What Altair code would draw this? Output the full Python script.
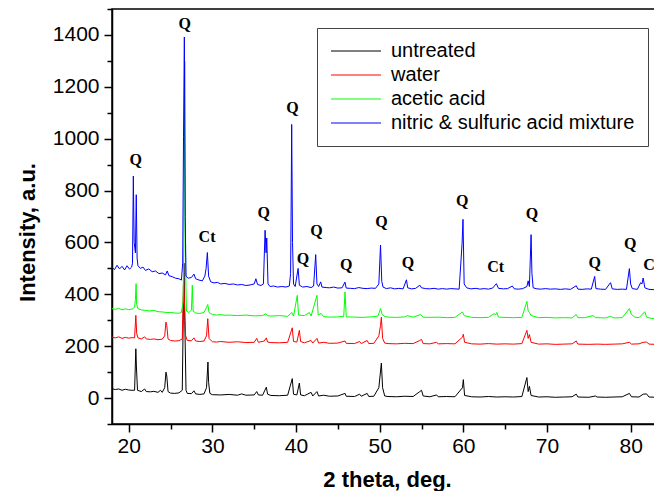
import altair as alt
import pandas as pd

series_names = ["untreated", "water", "acetic acid", "nitric & sulfuric acid mixture"]
series_colors = ["#000000", "#ff0000", "#00ff00", "#0000ff"]

untreated_pts = [
    (18.0, 36), (18.4, 33), (18.8, 35), (19.2, 30), (19.6, 34), (20.0, 31), (20.4, 30), (20.7, 30),
    (20.85, 190), (20.92, 120), (21.05, 30), (21.5, 25), (21.9, 35), (22.1, 25), (22.6, 24), (23.0, 26),
    (23.5, 22), (23.8, 30), (24.0, 22), (24.3, 40), (24.45, 100), (24.55, 85), (24.7, 25), (25.0, 19),
    (25.5, 18), (26.0, 20), (26.4, 30), (26.6, 520), (26.7, 300), (26.85, 30), (27.0, 18), (27.5, 17),
    (27.8, 28), (28.0, 16), (28.5, 14), (29.0, 16), (29.3, 40), (29.47, 139), (29.55, 60), (29.7, 18),
    (30.0, 13), (31.0, 12), (32.0, 14), (33.0, 11), (33.5, 16), (34.0, 11), (35.0, 12), (35.3, 25),
    (35.5, 12), (36.0, 11), (36.45, 42), (36.6, 15), (37.0, 10), (38.0, 9), (39.0, 11), (39.55, 75),
    (39.7, 15), (40.1, 12), (40.4, 58), (40.55, 12), (41.0, 9), (41.8, 22), (42.0, 8), (42.5, 25),
    (42.7, 8), (43.3, 11), (44.0, 7), (45.0, 8), (45.86, 18), (46.0, 7), (47.0, 6), (47.6, 15),
    (47.8, 7), (48.5, 18), (48.7, 6), (49.3, 7), (49.9, 40), (50.2, 135), (50.35, 40), (50.6, 8),
    (51.0, 6), (52.0, 5), (53.0, 7), (54.0, 6), (54.8, 25), (55.0, 30), (55.2, 8), (56.0, 5),
    (56.8, 12), (57.0, 5), (58.0, 6), (59.0, 5), (59.9, 40), (60.0, 71), (60.15, 10), (61.0, 5),
    (62.0, 4), (63.0, 6), (64.0, 4), (65.0, 5), (66.0, 4), (67.0, 6), (67.6, 79), (67.75, 25),
    (67.9, 45), (68.1, 10), (69.0, 4), (70.0, 5), (71.0, 3), (72.0, 4), (73.0, 5), (73.5, 15),
    (73.7, 4), (75.0, 3), (75.8, 8), (76.0, 4), (77.0, 3), (78.0, 4), (79.0, 5), (79.85, 18),
    (80.1, 5), (81.0, 4), (81.5, 15), (81.9, 16), (82.2, 4), (83.0, 3), (83.75, 4),
]

water_pts = [
    (18.0, 235), (18.4, 232), (18.8, 236), (19.2, 230), (19.6, 234), (20.0, 231), (20.4, 233), (20.7, 232),
    (20.85, 319), (20.95, 250), (21.1, 232), (21.5, 228), (21.9, 236), (22.1, 228), (22.6, 226), (23.0, 228),
    (23.5, 225), (24.0, 227), (24.3, 240), (24.45, 293), (24.55, 280), (24.7, 228), (25.0, 222), (25.5, 220),
    (26.0, 221), (26.4, 228), (26.55, 454), (26.65, 380), (26.8, 240), (27.0, 222), (27.5, 221), (27.8, 232),
    (28.0, 220), (28.5, 218), (29.0, 220), (29.3, 240), (29.45, 306), (29.6, 230), (30.0, 217), (30.5, 216),
    (31.0, 218), (32.0, 215), (33.0, 217), (34.0, 214), (35.0, 215), (35.3, 230), (35.5, 215), (36.2, 220),
    (36.45, 232), (36.6, 216), (37.0, 214), (38.0, 213), (39.0, 215), (39.55, 271), (39.7, 218), (40.1, 216),
    (40.4, 261), (40.55, 218), (41.0, 213), (41.8, 222), (42.0, 212), (42.5, 230), (42.7, 212), (43.3, 215),
    (44.0, 211), (45.0, 212), (45.86, 220), (46.0, 211), (47.0, 210), (47.6, 218), (47.8, 210), (48.5, 222),
    (48.7, 210), (49.3, 211), (49.9, 240), (50.1, 280), (50.2, 312), (50.35, 230), (50.6, 212), (51.0, 210),
    (52.0, 209), (53.0, 211), (54.0, 210), (54.8, 222), (55.0, 226), (55.2, 210), (56.0, 209), (56.8, 215),
    (57.0, 209), (58.0, 210), (59.0, 209), (59.9, 235), (60.0, 246), (60.15, 215), (61.0, 209), (62.0, 208),
    (63.0, 210), (64.0, 208), (65.0, 209), (66.0, 208), (67.0, 210), (67.6, 261), (67.75, 230), (67.9, 245),
    (68.1, 215), (69.0, 208), (70.0, 209), (71.0, 207), (72.0, 208), (73.0, 209), (73.5, 220), (73.7, 208),
    (75.0, 207), (76.0, 208), (77.0, 207), (78.0, 208), (79.0, 209), (79.85, 215), (80.1, 208), (81.0, 209),
    (81.5, 215), (81.9, 216), (82.2, 208), (83.0, 207), (83.75, 207),
]

acetic_pts = [
    (18.0, 345), (18.4, 342), (18.8, 346), (19.2, 340), (19.6, 344), (20.0, 341), (20.4, 343), (20.7, 350),
    (20.8, 380), (20.88, 441), (20.95, 360), (21.1, 345), (21.5, 340), (22.0, 338), (22.5, 336), (23.0, 338),
    (23.5, 333), (24.0, 332), (24.5, 330), (25.0, 330), (25.5, 328), (26.0, 327), (26.3, 330), (26.5, 370),
    (26.6, 600), (26.7, 1298), (26.8, 500), (26.9, 335), (27.2, 330), (27.5, 340), (27.6, 435), (27.7, 335),
    (28.0, 328), (28.5, 326), (29.0, 330), (29.3, 350), (29.45, 361), (29.6, 330), (30.0, 322), (30.5, 320),
    (31.0, 322), (31.5, 319), (32.0, 320), (33.0, 318), (34.0, 320), (35.0, 317), (36.0, 318), (36.4, 325),
    (36.6, 318), (37.0, 316), (38.0, 318), (39.0, 315), (39.5, 330), (39.7, 316), (40.15, 396), (40.3, 320),
    (41.0, 318), (41.6, 330), (41.8, 316), (42.5, 396), (42.65, 320), (43.0, 326), (43.3, 314), (44.0, 312),
    (45.0, 313), (45.7, 315), (45.86, 409), (46.0, 313), (47.0, 312), (48.0, 311), (49.0, 313), (49.8, 316),
    (50.1, 345), (50.3, 322), (50.6, 315), (51.0, 312), (52.0, 311), (53.0, 313), (53.3, 318), (54.0, 312),
    (54.9, 322), (55.2, 312), (56.0, 311), (57.0, 312), (58.0, 310), (59.0, 311), (59.9, 332), (60.1, 318),
    (61.0, 311), (62.0, 310), (63.0, 311), (63.7, 326), (63.85, 320), (64.0, 330), (64.2, 312), (65.0, 311),
    (66.0, 310), (67.0, 311), (67.6, 373), (67.75, 335), (67.9, 330), (68.1, 318), (69.0, 310), (70.0, 311),
    (71.0, 309), (72.0, 310), (73.0, 309), (73.5, 322), (73.7, 310), (74.5, 310), (75.5, 318), (75.8, 310),
    (77.0, 309), (77.6, 315), (78.0, 309), (79.0, 310), (79.85, 345), (80.1, 322), (80.5, 312), (81.0, 310),
    (81.7, 333), (81.9, 312), (82.5, 307), (83.0, 306), (83.75, 306),
]

nitric_pts = [
    (18.0, 505), (18.3, 495), (18.6, 512), (18.9, 498), (19.2, 508), (19.5, 494), (19.8, 510), (20.1, 497),
    (20.35, 505), (20.45, 520), (20.55, 856), (20.65, 600), (20.8, 560), (20.9, 784), (21.0, 540), (21.1, 510),
    (21.4, 500), (21.7, 505), (22.0, 492), (22.4, 498), (22.8, 487), (23.2, 490), (23.6, 480), (24.0, 482),
    (24.4, 475), (24.6, 490), (24.8, 472), (25.2, 468), (25.6, 462), (26.0, 460), (26.3, 455), (26.45, 520),
    (26.55, 1010), (26.65, 1392), (26.75, 700), (26.85, 470), (27.1, 462), (27.5, 465), (27.8, 478), (28.0, 460),
    (28.4, 455), (28.8, 452), (29.1, 470), (29.25, 500), (29.4, 561), (29.55, 470), (29.8, 448), (30.2, 444),
    (30.6, 446), (31.0, 440), (31.5, 442), (32.0, 438), (32.5, 440), (33.0, 436), (33.5, 438), (34.0, 434),
    (34.5, 436), (35.0, 440), (35.2, 460), (35.4, 438), (35.8, 434), (36.1, 440), (36.3, 647), (36.42, 560),
    (36.5, 617), (36.65, 440), (36.9, 430), (37.3, 432), (37.8, 428), (38.3, 430), (38.8, 428), (39.2, 432),
    (39.35, 480), (39.42, 756), (39.48, 1055), (39.58, 600), (39.7, 440), (39.9, 430), (40.25, 500), (40.4, 435),
    (40.8, 428), (41.3, 430), (41.8, 426), (42.1, 432), (42.35, 553), (42.5, 440), (42.7, 430), (42.95, 448),
    (43.1, 428), (43.6, 426), (44.0, 425), (44.5, 428), (45.0, 424), (45.5, 425), (45.85, 447), (46.0, 424),
    (46.5, 423), (47.0, 422), (47.5, 426), (48.0, 423), (48.5, 422), (49.0, 424), (49.5, 423), (49.9, 440),
    (50.1, 590), (50.25, 450), (50.4, 428), (50.8, 422), (51.3, 425), (51.8, 421), (52.3, 423), (52.8, 421),
    (53.2, 456), (53.35, 425), (53.8, 421), (54.3, 423), (54.8, 435), (55.0, 425), (55.5, 422), (56.0, 421),
    (56.5, 423), (57.0, 420), (57.5, 422), (58.0, 420), (58.5, 422), (59.0, 421), (59.5, 420), (59.85, 595),
    (59.96, 689), (60.1, 440), (60.4, 425), (60.9, 421), (61.5, 423), (62.0, 420), (62.5, 422), (63.0, 420),
    (63.5, 424), (63.95, 441), (64.2, 423), (64.8, 421), (65.3, 422), (65.85, 432), (66.1, 421), (66.6, 420),
    (67.1, 422), (67.6, 430), (67.75, 452), (67.9, 430), (68.1, 630), (68.2, 480), (68.35, 425), (68.8, 421),
    (69.3, 420), (69.8, 422), (70.4, 420), (71.0, 421), (71.6, 419), (72.2, 421), (72.8, 419), (73.5, 433),
    (73.7, 420), (74.2, 419), (74.8, 421), (75.3, 420), (75.7, 469), (75.85, 422), (76.4, 420), (77.0, 419),
    (77.6, 445), (77.8, 421), (78.4, 419), (79.0, 420), (79.5, 419), (79.85, 499), (80.0, 440), (80.2, 422),
    (80.8, 419), (81.2, 445), (81.35, 440), (81.5, 463), (81.7, 425), (82.2, 419), (82.8, 418), (83.3, 419),
    (83.75, 418),
]

peak_labels = ["Q", "Q", "Ct", "Q", "Q", "Q", "Q", "Q", "Q", "Q", "Q", "Ct", "Q", "Q", "Q", "C"]
peak_x = [20.84, 26.69, 29.36, 36.13, 39.56, 40.83, 42.43, 46.0, 50.2, 53.38, 59.88, 63.86, 68.2, 75.7, 79.96, 82.2]
peak_y = [917, 1441, 621, 713, 1118, 535, 643, 514, 679, 521, 759, 504, 711, 521, 595, 514]

y_tick_values = list(range(-100, 1501, 100))
x_tick_values = list(range(20, 85, 5))

rows = []
for name, pts in zip(series_names, [untreated_pts, water_pts, acetic_pts, nitric_pts]):
    for x, y in pts:
        rows.append({"series": name, "theta": x, "intensity": y})
df = pd.DataFrame(rows)
labels_df = pd.DataFrame({"label": peak_labels, "theta": peak_x, "intensity": peak_y})

FONT = "Liberation Sans"

x_scale = alt.Scale(domain=[18, 83.75], nice=False, zero=False)
y_scale = alt.Scale(domain=[-100, 1500], nice=False, zero=False)

x_axis = alt.Axis(
    title="2 theta, deg.",
    values=x_tick_values,
    format="d",
    labelExpr="datum.value % 10 == 0 ? datum.label : ''",
    tickSize={"condition": {"test": "datum.value % 10 != 0", "value": 5}, "value": 8},
    grid=False, labelFlush=False, labelOverlap=False,
    labelFont=FONT, labelFontSize=21, labelColor="black", labelPadding=3,
    titleFont=FONT, titleFontSize=22, titleFontWeight="bold", titleColor="black",
    titleY=55, titleBaseline="middle",
    domainColor="black", domainWidth=1.5, tickColor="black", tickWidth=1.5,
)
y_axis = alt.Axis(
    title="Intensity, a.u.",
    values=y_tick_values,
    format="d",
    labelExpr="datum.value < 0 ? '' : (datum.value % 200 == 0 ? datum.label : '')",
    tickSize={"condition": {"test": "datum.value % 200 != 0", "value": 5}, "value": 8},
    grid=False, labelOverlap=False, labelFlush=False,
    labelFont=FONT, labelFontSize=21, labelColor="black", labelPadding=5,
    titleFont=FONT, titleFontSize=22, titleFontWeight="bold", titleColor="black",
    titleX=-85, titleY=223, titleBaseline="middle", titleAngle=270,
    domainColor="black", domainWidth=1.5, tickColor="black", tickWidth=1.5,
)

color = alt.Color(
    "series:N",
    scale=alt.Scale(domain=series_names, range=series_colors),
    legend=alt.Legend(
        title=None, orient="none", legendX=205, legendY=19, direction="vertical",
        symbolType="M-5,0H5", symbolSize=100, symbolStrokeWidth=1, symbolOffset=16,
        labelFont=FONT, labelFontSize=20, labelColor="black", labelLimit=500, labelOffset=25,
        strokeColor="#444", fillColor="white", padding=13, rowPadding=4,
    ),
)

base = alt.Chart(df).mark_line(strokeWidth=1, clip=True).encode(
    x=alt.X("theta:Q", scale=x_scale, axis=x_axis),
    y=alt.Y("intensity:Q", scale=y_scale, axis=y_axis),
    color=color,
)
line_layers = [base.transform_filter(alt.datum.series == n) for n in series_names]

text_layer = alt.Chart(labels_df).mark_text(
    font="Liberation Serif", fontSize=16, fontWeight="bold", color="black", baseline="middle", align="center"
).encode(
    x=alt.X("theta:Q", scale=x_scale, axis=x_axis),
    y=alt.Y("intensity:Q", scale=y_scale, axis=y_axis),
    text="label:N",
)

chart = alt.layer(*line_layers, text_layer).properties(
    width=550, height=415,
    autosize=alt.AutoSizeParams(type="none"),
    padding={"left": 104, "top": 1, "right": -8, "bottom": 67},
).configure_view(stroke="black", strokeWidth=1.5)

chart.save("out.html", embed_options={"renderer": "svg", "actions": False})
